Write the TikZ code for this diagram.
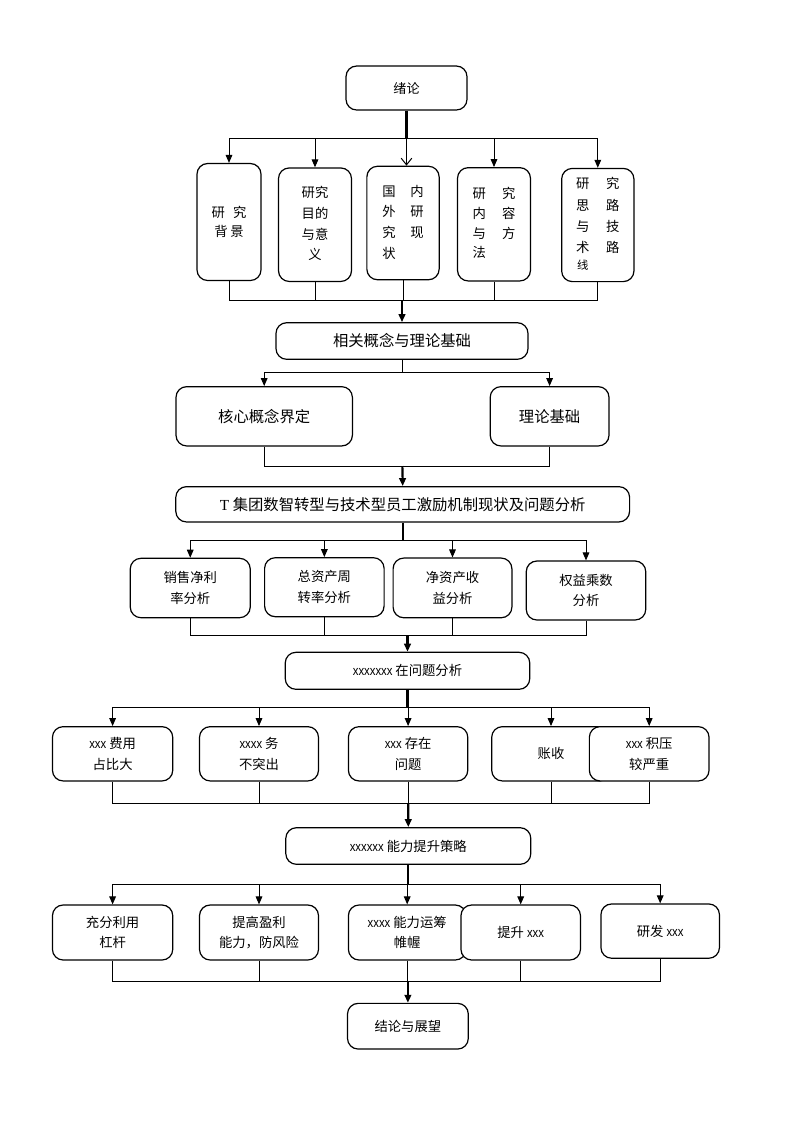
\documentclass[tikz,border=0pt]{standalone}
\usepackage{fontspec}
\setmainfont{Noto Sans CJK SC}
\newfontfamily\xfont[FakeStretch=0.85]{Liberation Sans}
\newfontfamily\tfont{Liberation Serif}
\usetikzlibrary{arrows.meta}
\newcommand\fsm{\fontsize{10}{15.5}\selectfont}
\newcommand\flg{\fontsize{11.5}{16}\selectfont}
\newcommand\xx[1]{{\xfont #1}}
\tikzset{
  bx/.style 2 args={draw, line width=0.9pt, rounded corners=8pt, fill=white, inner sep=0pt,
    align=center, minimum width=#1*0.75pt, minimum height=#2*0.75pt, font=\fsm},
  big/.style={font=\flg},
  ln/.style={line width=0.75pt},
  thk/.style={line width=1.6pt},
  tip/.style={-{Triangle[length=6pt,width=5pt]}},
  vtip/.style={-{Straight Barb[length=5pt,width=8pt]}},
}
\begin{document}
\begin{tikzpicture}[x=0.75pt,y=-0.75pt]
\fill[white] (0,0) rectangle (793,1122);
\useasboundingbox (0,0) rectangle (793,1122);

% ---- boxes ----
\node[bx={121}{44}, font=\fontsize{9.8}{14}\selectfont] (xl) at (406.5,88) {绪论};

\node[bx={64}{117}] (r1a) at (229,222) {研\hspace{6pt}究\\[-1pt]背\hspace{2pt}景};
\node[bx={73}{113.5}] (r1b) at (315,224.7) {\begin{tabular}{@{}c@{}}研究\\目的\\与意\\义\end{tabular}};
\node[bx={72.3}{113.5}] (r1c) at (403,223) {\begin{tabular}{@{}c@{\hspace{11pt}}c@{}}国&内\\外&研\\究&现\\状&\end{tabular}};
\node[bx={73}{113.3}] (r1d) at (494,224.3) {\fontsize{10}{14.8}\selectfont\begin{tabular}{@{}c@{\hspace{12pt}}c@{}}研&究\\内&容\\与&方\\法&\end{tabular}};
\node[bx={72.3}{113.2}] (r1e) at (597.8,225) {\fontsize{10}{15.9}\selectfont\begin{tabular}{@{}c@{\hspace{12.5pt}}c@{}}研&究\\思&路\\与&技\\术&路\\[-3pt]{\fontsize{8.5}{10}\selectfont 线}&\end{tabular}};

\node[bx={252}{36.6}, big] (xg) at (402,341) {相关概念与理论基础};
\node[bx={176.4}{59.3}, big] (hx) at (264.2,416.3) {核心概念界定};
\node[bx={118.8}{59.3}, big] (ll) at (549.6,416.3) {理论基础};
\node[bx={453.8}{35.3}, big] (tj) at (402.7,504.3) {{\tfont T} 集团数智转型与技术型员工激励机制现状及问题分析};

\node[bx={120}{59.4}] (xs) at (190.25,588) {销售净利\\率分析};
\node[bx={119.5}{59}] (zz) at (324.35,587.2) {总资产周\\转率分析};
\node[bx={118.8}{59.7}] (jz) at (452.5,587.9) {净资产收\\益分析};
\node[bx={119.5}{59}] (qy) at (586,590.5) {权益乘数\\分析};

\node[bx={244.5}{37}] (wt) at (407.5,670.8) {\xx{xxxxxxx} 在问题分析};

\node[bx={120.3}{54.3}] (fy) at (112.6,753.8) {\xx{xxx} 费用\\占比大};
\node[bx={119}{54.3}] (ws) at (259,753.8) {\xx{xxxx} 务\\不突出};
\node[bx={119.4}{54.3}] (cz) at (408.1,753.8) {\xx{xxx} 存在\\问题};
\node[bx={118.6}{54.3}] (zs) at (551,753.8) {账收};
\node[bx={119.7}{54.3}] (jy) at (649.2,753.8) {\xx{xxx} 积压\\较严重};

\node[bx={245}{36.6}] (nl) at (408.3,846) {\xx{xxxxxx} 能力提升策略};

\node[bx={120.3}{55}] (cf) at (112.6,932.5) {充分利用\\杠杆};
\node[bx={119}{55}] (tg) at (259,932.5) {提高盈利\\能力，防风险};
\node[bx={117.6}{55}] (yc) at (407.2,932.5) {\xx{xxxx} 能力运筹\\帷幄};
\node[bx={119.5}{55}] (ts) at (520.7,932.5) {提升 \xx{xxx}};
\node[bx={118.5}{54.3}] (yf) at (660.2,931.1) {研发 \xx{xxx}};

\node[bx={120.8}{45.7}] (jl) at (407.9,1026.2) {结论与展望};

% ---- bus / join coordinates ----
\coordinate (b1) at (406.5,138.3);
\coordinate (j1) at (402,300.7);
\coordinate (b2) at (402,372.7);
\coordinate (j2) at (402.4,466);
\coordinate (b3) at (402.7,540);
\coordinate (j3) at (407.5,635);
\coordinate (b4) at (407.5,707.5);
\coordinate (j4) at (408.2,803.5);
\coordinate (b5) at (408.3,884.7);
\coordinate (j5) at (407.9,981.7);

% level 1
\draw[thk] (xl.south) -- (b1);
\foreach \n in {r1a,r1b,r1d,r1e} \draw[ln,tip] (b1) -| (\n.north);
\draw[ln,vtip] (b1) -- (b1 |- r1c.north);
\foreach \n in {r1a,r1b,r1c,r1d,r1e} \draw[ln] (\n.south) |- (j1);
\draw[thk,tip] (j1) -- (xg.north);

% level 2
\draw[ln] (xg.south) -- (b2);
\foreach \n in {hx,ll} \draw[ln,tip] (b2) -| (\n.north);
\foreach \n in {hx,ll} \draw[ln] (\n.south) |- (j2);
\draw[thk,tip] (j2) -- (tj.north);

% level 3
\draw[thk] (tj.south) -- (b3);
\foreach \n in {xs,zz,jz,qy} \draw[ln,tip] (b3) -| (\n.north);
\foreach \n in {xs,zz,jz,qy} \draw[ln] (\n.south) |- (j3);
\draw[thk,tip] (j3) -- (wt.north);

% level 4
\draw[thk] (wt.south) -- (b4);
\foreach \n in {fy,ws,cz,zs,jy} \draw[ln,tip] (b4) -| (\n.north);
\foreach \n in {fy,ws,cz,zs,jy} \draw[ln] (\n.south) |- (j4);
\draw[thk,tip] (j4) -- (nl.north);

% level 5
\draw[thk] (nl.south) -- (b5);
\foreach \n in {cf,tg,yc,ts,yf} \draw[ln,tip] (b5) -| (\n.north);
\foreach \n in {cf,tg,yc,ts,yf} \draw[ln] (\n.south) |- (j5);
\draw[thk,tip] (j5) -- (jl.north);
\end{tikzpicture}
\end{document}
